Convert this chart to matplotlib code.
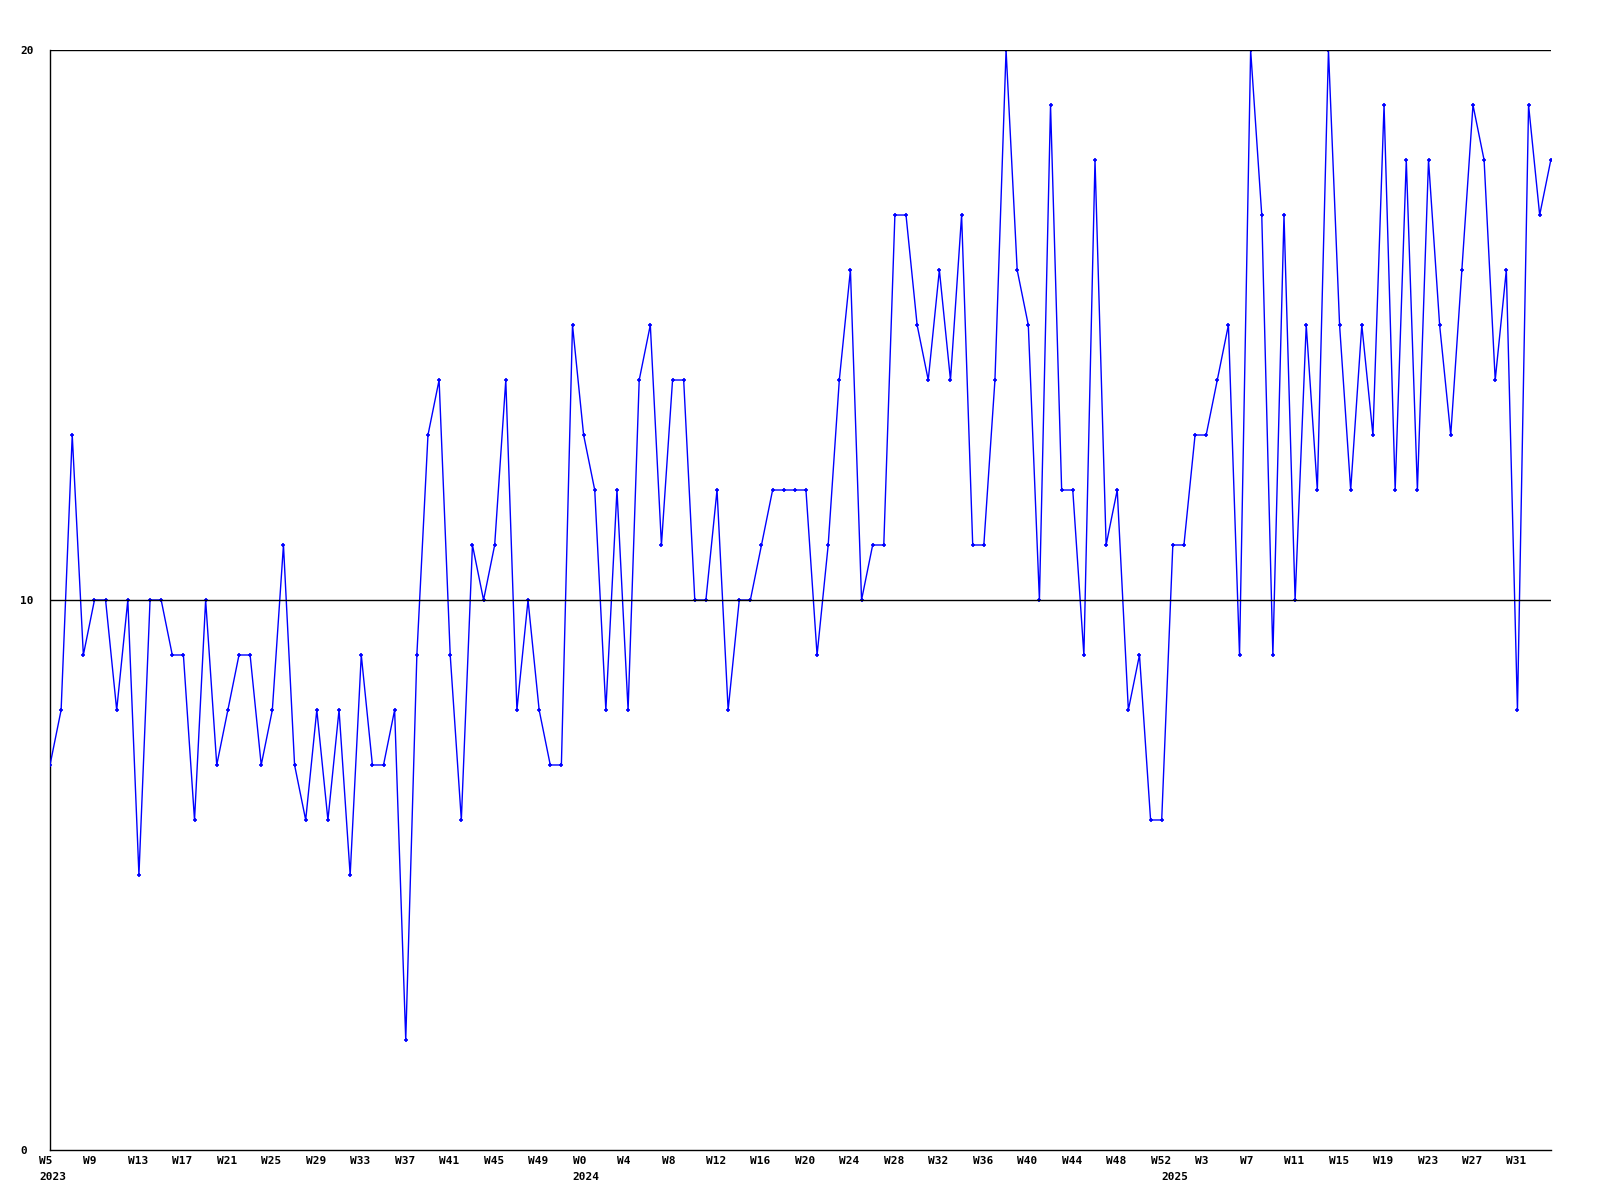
import matplotlib
matplotlib.use("Agg")
import matplotlib.pyplot as plt
from matplotlib import transforms

# ===== DATA =====
weeks_2023 = list(range(5, 53))
weeks_2024 = list(range(0, 53))
weeks_2025 = list(range(0, 35))

values_2023 = [7, 8, 13, 9, 10, 10, 8, 10, 5, 10, 10, 9, 9, 6, 10, 7, 8, 9, 9, 7,
               8, 11, 7, 6, 8, 6, 8, 5, 9, 7, 7, 8, 2, 9, 13, 14, 9, 6, 11, 10,
               11, 14, 8, 10, 8, 7, 7, 15]
values_2024 = [13, 12, 8, 12, 8, 14, 15, 11, 14, 14, 10, 10, 12, 8, 10, 10, 11, 12,
               12, 12, 12, 9, 11, 14, 16, 10, 11, 11, 17, 17, 15, 14, 16, 14, 17, 11,
               11, 14, 20, 16, 15, 10, 19, 12, 12, 9, 18, 11, 12, 8, 9, 6, 6]
values_2025 = [11, 11, 13, 13, 14, 15, 9, 20, 17, 9, 17, 10, 15, 12, 20, 15, 12, 15,
               13, 19, 12, 18, 12, 18, 15, 13, 16, 19, 18, 14, 16, 8, 19, 17, 18]

years = ["2023", "2024", "2025"]
y_ticks = [0, 10, 20]

# ===== BUILD SERIES =====
labels = ([f"W{w}" for w in weeks_2023] + [f"W{w}" for w in weeks_2024]
          + [f"W{w}" for w in weeks_2025])
values = values_2023 + values_2024 + values_2025
x = list(range(len(values)))
year_starts = [0, len(weeks_2023), len(weeks_2023) + len(weeks_2024)]

font = dict(family="DejaVu Sans Mono", weight="bold", size=8)

# ===== PLOT =====
fig = plt.figure(figsize=(16, 12), dpi=100)
ax = fig.add_axes([0.03125, 0.0417, 0.938, 0.9166])

# grid lines sit on top of the series, like the original
for yv in y_ticks[1:]:
    ax.axhline(yv, color="black", linewidth=1, zorder=4)

ax.plot(x, values, color="#0000ff", linewidth=1, marker="+",
        markersize=3, markeredgewidth=1.2, zorder=3)

ax.set_xlim(0, len(values) - 1)
ax.set_ylim(0, 20)

for side in ["top", "right"]:
    ax.spines[side].set_visible(False)
for side in ["left", "bottom"]:
    ax.spines[side].set_color("black")
    ax.spines[side].set_linewidth(1)

ax.set_xticks([])
ax.set_yticks(y_ticks)
ax.set_yticklabels([str(v) for v in y_ticks], **font)
ax.tick_params(axis="y", length=0, pad=21.6)
for lbl in ax.get_yticklabels():
    lbl.set_horizontalalignment("left")

# week labels every 4 weeks, year labels at year start
trans = transforms.blended_transform_factory(ax.transData, ax.transAxes)
week_trans = transforms.offset_copy(trans, fig=fig, x=-11, y=-11, units="dots")
year_trans = transforms.offset_copy(trans, fig=fig, x=-11, y=-27, units="dots")

for i in range(0, len(values), 4):
    ax.text(i, 0, labels[i], transform=week_trans, ha="left", va="center", **font)
for i, yr in zip(year_starts, years):
    ax.text(i, 0, yr, transform=year_trans, ha="left", va="center", **font)

plt.savefig("out.png", dpi=100)
